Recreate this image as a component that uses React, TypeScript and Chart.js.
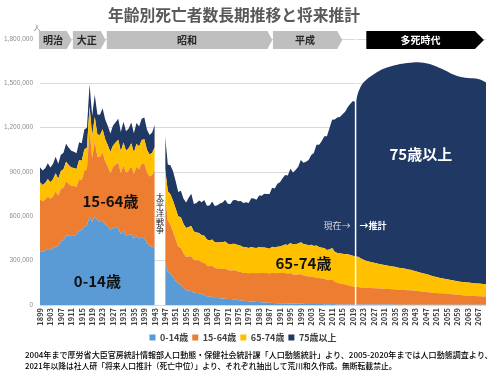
import React, { useEffect, useRef } from 'react';
import { Chart, registerables } from 'chart.js';

Chart.register(...registerables);

const FONT = '"Noto Sans CJK JP", "Noto Sans", sans-serif';

// categories: 1899 .. 2070
const years: string[] = Array.from({ length: 2070 - 1899 + 1 }, (_, i) => String(1899 + i));

// values in thousands of deaths
// 1899-1943
const child_pre = [366,360,370,380,375,385,395,400,430,440,470,470,465,470,475,505,505,530,540,600,560,600,575,565,570,545,535,510,520,525,520,480,500,470,475,480,450,465,450,455,450,420,400,395,385];
const work_pre = [350,342,343,355,344,350,373,341,355,354,367,350,342,335,326,344,341,377,380,578,435,507,428,436,464,426,400,383,412,425,443,414,444,425,435,459,436,470,468,501,510,479,470,484,524];
const young_old_pre = [114,110,112,118,112,116,124,114,122,124,132,128,124,122,120,132,130,146,146,165,150,165,150,150,156,150,146,142,148,150,156,146,156,148,150,156,146,156,154,160,162,152,148,152,160];
const old_old_pre = [102,98,100,106,100,104,112,100,110,112,122,116,112,110,106,120,118,134,134,150,136,150,136,136,142,134,130,126,134,136,142,130,140,132,134,140,130,140,136,144,146,136,132,136,150];
// 1944-1946: no data (Pacific War)
const warGap = [null, null, null];
// 1947-2020
const child_post = [290,225,215,190,165,145,135,115,100,98,95,85,82,80,72,68,60,56,55,48,47,45,44,43,41,40,39,37,34,31,29,27,25,23,22,21,20,19,17,16,15,14,13,12,12,11,11,10,10,9,9,8,8,8,7,7,7,6,6,6,6,5,5,5,6,5,4,4,4,4,3,3,3,3];
const work_post = [440,345,330,305,280,250,250,235,225,230,235,220,220,222,218,218,208,206,210,202,200,202,200,202,196,194,196,196,192,192,188,190,190,194,194,194,198,198,200,200,198,204,202,204,204,206,206,202,206,198,196,198,200,192,190,186,186,182,180,176,174,172,166,164,168,152,146,142,138,134,130,126,122,118];
const young_old_post = [190,200,205,210,208,205,208,200,196,200,204,192,188,186,182,182,176,174,178,174,176,178,180,184,178,176,180,180,178,178,174,174,170,176,172,170,174,172,172,170,168,176,174,178,180,186,192,194,204,202,206,210,216,212,212,212,214,212,216,210,208,208,202,206,212,204,202,202,204,206,210,210,208,206];
const old_old_post = [218,181,196,200,186,165,180,171,173,197,218,187,200,219,224,242,227,237,257,246,252,262,270,284,270,273,294,298,298,302,299,305,305,330,332,327,349,351,363,365,370,399,400,426,434,454,470,470,502,487,502,520,558,550,561,577,608,629,682,692,720,757,769,822,867,895,916,925,945,964,997,1023,1048,1046];
// 2021-2070 projection
const child_proj = [3,3,3,3,3,3,3,3,3,3,3,3,3,3,3,2,2,2,2,2,2,2,2,2,2,2,2,2,2,2,2,2,2,2,2,2,2,2,2,2,2,2,2,2,2,2,2,2,2,2];
const work_proj = [118,116,115,114,113,112,111,110,109,108,107,106,105,104,103,102,101,100,99,98,97,96,94,92,90,88,86,84,82,80,79,78,77,76,75,73,71,69,67,65,64,63,62,61,60,59,58,57,56,55];
const young_old_proj = [205,196,188,182,178,175,172,169,166,163,160,158,156,154,152,150,148,146,144,141,139,136,133,130,127,124,121,118,114,111,108,105,102,100,98,96,94,93,92,91,90,89,88,87,86,85,85,84,84,83];
const old_old_proj = [1114,1165,1199,1223,1243,1260,1276,1292,1306,1319,1330,1340,1349,1357,1364,1372,1379,1385,1391,1397,1402,1407,1413,1418,1422,1425,1427,1428,1429,1428,1425,1421,1417,1412,1406,1401,1396,1392,1389,1387,1385,1384,1384,1385,1386,1386,1384,1381,1374,1366];

const toPersons = (arr: (number | null)[]) => arr.map((v) => (v == null ? null : v * 1000));

const seriesNames = ['0-14歳', '15-64歳', '65-74歳', '75歳以上'];
const seriesColors = ['#5b9bd5', '#ed7d31', '#ffc000', '#203864'];
const seriesData = [
  toPersons([...child_pre, ...warGap, ...child_post, ...child_proj]),
  toPersons([...work_pre, ...warGap, ...work_post, ...work_proj]),
  toPersons([...young_old_pre, ...warGap, ...young_old_post, ...young_old_proj]),
  toPersons([...old_old_pre, ...warGap, ...old_old_post, ...old_old_proj]),
];

const yTicks = [0, 300000, 600000, 900000, 1200000, 1500000, 1800000];

const eraNames = ['明治', '大正', '昭和', '平成', '多死時代'];
const eraFrom = [1898.6, 1911.6, 1924.6, 1988.3, 2024.1];
const eraTo = [1911.2, 1924.2, 1988.1, 2014.9, 2069.2];

const areaLabels = [
  { text: '0-14歳', year: 1921, value: 160000, color: '#111111' },
  { text: '15-64歳', year: 1926, value: 700000, color: '#111111' },
  { text: '65-74歳', year: 2000, value: 283000, color: '#111111' },
  { text: '75歳以上', year: 2045, value: 1018000, color: '#ffffff' },
];

const title = '年齢別死亡者数長期推移と将来推計';
const warLabel = '太平洋戦争';
const presentYear = 2020;
const footnotes = [
  '2004年まで厚労省大臣官房統計情報部人口動態・保健社会統計課「人口動態統計」より、2005-2020年までは人口動態調査より、',
  '2021年以降は社人研「将来人口推計（死亡中位）」より、それぞれ抽出して荒川和久作成。無断転載禁止。',
];

function fitText(ctx: CanvasRenderingContext2D, text: string, x: number, y: number, width: number, weight: string) {
  ctx.font = `${weight} 10px ${FONT}`;
  const w = ctx.measureText(text).width || 1;
  const size = (10 * width) / w;
  ctx.font = `${weight} ${size}px ${FONT}`;
  ctx.fillText(text, x, y);
}

const decorPlugin = {
  id: 'decor',
  beforeDraw(chart: any) {
    const { ctx } = chart;
    ctx.save();
    ctx.fillStyle = '#ffffff';
    ctx.fillRect(0, 0, chart.width, chart.height);
    ctx.restore();
  },
  afterDatasetsDraw(chart: any) {
    const { ctx, chartArea } = chart;
    const xs = chart.scales.x;
    const ys = chart.scales.y;
    ctx.save();
    // present line
    const lx = xs.getPixelForValue(presentYear - 1899);
    ctx.strokeStyle = '#ffffff';
    ctx.lineWidth = 1.5;
    ctx.beginPath();
    ctx.moveTo(lx, chartArea.top);
    ctx.lineTo(lx, chartArea.bottom);
    ctx.stroke();

    ctx.textBaseline = 'middle';
    const py = ys.getPixelForValue(539000);
    ctx.font = `9px ${FONT}`;
    ctx.fillStyle = '#d9d9d9';
    ctx.textAlign = 'right';
    ctx.fillText('現在→', lx - 5, py);
    ctx.font = `bold 9px ${FONT}`;
    ctx.fillStyle = '#ffffff';
    ctx.textAlign = 'left';
    ctx.fillText('→推計', lx + 4, py);

    // area labels
    ctx.textAlign = 'center';
    ctx.font = `bold 15px ${FONT}`;
    for (const l of areaLabels) {
      ctx.fillStyle = l.color;
      ctx.fillText(l.text, xs.getPixelForValue(l.year - 1899), ys.getPixelForValue(l.value));
    }

    // war label (vertical)
    const wx = xs.getPixelForValue(1945 - 1899);
    const wy = ys.getPixelForValue(620000);
    ctx.font = `8px ${FONT}`;
    ctx.fillStyle = '#111111';
    const chars = Array.from(warLabel);
    const step = 8.4;
    chars.forEach((c, i) => {
      ctx.fillText(c, wx, wy + (i - (chars.length - 1) / 2) * step);
    });
    ctx.restore();
  },
  afterDraw(chart: any) {
    const { ctx } = chart;
    const xs = chart.scales.x;
    ctx.save();
    // title
    ctx.textBaseline = 'middle';
    ctx.textAlign = 'center';
    ctx.fillStyle = '#595959';
    fitText(ctx, title, 234, 15, 252, 'bold');
    // unit
    ctx.font = `7px ${FONT}`;
    ctx.fillStyle = '#7f7f7f';
    ctx.fillText('人', 37, 27);

    // era bar
    const y0 = 31;
    const y1 = 49;
    eraNames.forEach((name, i) => {
      const dark = i === eraNames.length - 1;
      const x0 = xs.getPixelForValue(eraFrom[i] - 1899);
      const x1 = xs.getPixelForValue(eraTo[i] - 1899);
      const d = dark ? 9 : 5;
      ctx.beginPath();
      ctx.moveTo(x0, y0);
      ctx.lineTo(x1 - d, y0);
      ctx.lineTo(x1, (y0 + y1) / 2);
      ctx.lineTo(x1 - d, y1);
      ctx.lineTo(x0, y1);
      ctx.closePath();
      ctx.fillStyle = dark ? '#000000' : '#bfbfbf';
      ctx.fill();
      ctx.fillStyle = dark ? '#ffffff' : '#262626';
      ctx.font = `bold 10px ${FONT}`;
      ctx.fillText(name, (x0 + x1 - d) / 2, (y0 + y1) / 2 + 0.5);
    });

    // footnotes
    ctx.textAlign = 'left';
    ctx.fillStyle = '#000000';
    fitText(ctx, footnotes[0], 25, 355, 468, '500');
    fitText(ctx, footnotes[1], 25, 366, 372, '500');
    ctx.restore();
  },
};

export default function App() {
  const ref = useRef<HTMLCanvasElement>(null);
  useEffect(() => {
    document.body.style.margin = '0';
    const canvas = ref.current!;
    const chart = new Chart(canvas, {
      type: 'line',
      data: {
        labels: years,
        datasets: seriesData.map((d, i) => ({
          label: seriesNames[i],
          data: d,
          backgroundColor: seriesColors[i],
          borderColor: seriesColors[i],
          borderWidth: 0,
          pointRadius: 0,
          pointHoverRadius: 0,
          fill: i === 0 ? 'origin' : '-1',
          tension: 0,
          spanGaps: false,
        })),
      },
      options: {
        animation: false,
        responsive: false,
        devicePixelRatio: 1,
        layout: { padding: { top: 39, right: 14, left: 0, bottom: 23 } },
        plugins: {
          tooltip: { enabled: false },
          title: { display: false },
          legend: {
            position: 'bottom',
            labels: {
              boxWidth: 6,
              boxHeight: 6,
              padding: 4,
              color: '#404040',
              font: { size: 9, weight: 'bold', family: FONT },
            },
          },
        },
        scales: {
          x: {
            type: 'category',
            offset: false,
            grid: { display: false, drawTicks: false },
            border: { display: false },
            ticks: {
              autoSkip: false,
              maxRotation: 90,
              minRotation: 90,
              padding: 3,
              color: '#404040',
              font: { size: 7.5, weight: 'bold', family: FONT },
              callback: (_v: any, idx: number) => (idx % 4 === 0 ? years[idx] : ''),
            },
            afterFit: (s: any) => {
              s.height = 24;
            },
          },
          y: {
            stacked: true,
            min: 0,
            max: 1800000,
            afterBuildTicks: (s: any) => {
              s.ticks = yTicks.map((v) => ({ value: v }));
            },
            grid: { color: '#d9d9d9', drawTicks: false },
            border: { display: false },
            ticks: {
              padding: 7,
              color: '#8c8c8c',
              font: { size: 6.5, family: '"Liberation Sans", sans-serif' },
              callback: (v: any) => Number(v).toLocaleString('en-US'),
            },
            afterFit: (s: any) => {
              s.width = 40;
            },
          },
        },
      },
      plugins: [decorPlugin],
    });
    return () => chart.destroy();
  }, []);
  return (
    <div style={{ width: 500, height: 375 }}>
      <canvas ref={ref} width={500} height={375} style={{ display: 'block', width: 500, height: 375 }} />
    </div>
  );
}
